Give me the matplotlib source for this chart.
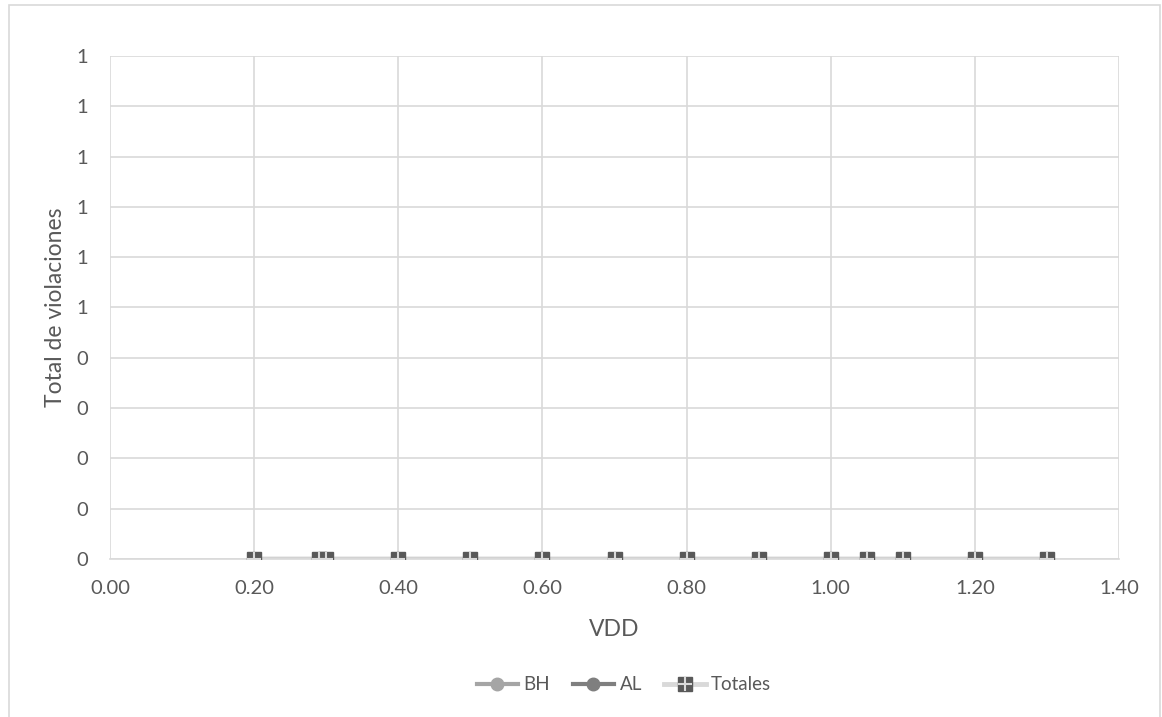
import numpy as np
import matplotlib
matplotlib.use("Agg")
import matplotlib.pyplot as plt
from matplotlib.patches import Rectangle
from matplotlib.legend_handler import HandlerTuple
from matplotlib.ticker import FuncFormatter, MultipleLocator

plt.rcParams['font.family'] = ['Lato', 'DejaVu Sans']

vdd = [0.20, 0.29, 0.30, 0.40, 0.50, 0.60, 0.70, 0.80, 0.90, 1.00, 1.05, 1.10, 1.20, 1.30]
bh = [0, 0, 0, 0, 0, 0, 0, 0, 0, 0, 0, 0, 0, 0]
al = [0, 0, 0, 0, 0, 0, 0, 0, 0, 0, 0, 0, 0, 0]
totales = [0, 0, 0, 0, 0, 0, 0, 0, 0, 0, 0, 0, 0, 0]

text_color = '#595959'
grid_color = '#d9d9d9'

fig = plt.figure(figsize=(11.62, 7.17), dpi=100)
ax = fig.add_axes([110 / 1162, 1 - 559 / 717, (1119 - 110) / 1162, (559 - 56) / 717])

# outer chart border
fig.patches.append(Rectangle((9 / 1162, -0.02), (1160 - 9) / 1162, 1.02 - 5 / 717,
                             transform=fig.transFigure, fill=False,
                             edgecolor=grid_color, linewidth=1.2))

l_bh, = ax.plot(vdd, bh, color='#a5a5a5', lw=3, marker='o', ms=9,
                markerfacecolor='#a5a5a5', markeredgecolor='#a5a5a5', zorder=3)
l_al, = ax.plot(vdd, al, color='#7f7f7f', lw=3, marker='o', ms=9,
                markerfacecolor='#7f7f7f', markeredgecolor='#7f7f7f', zorder=4)
l_tot, = ax.plot(vdd, totales, color='#d9d9d9', lw=3.5, marker='s', ms=10.5,
                 markerfacecolor='#595959', markeredgecolor='#595959', zorder=5)
l_cross, = ax.plot(vdd, totales, linestyle='none', marker='+', ms=10, mew=1.5,
                   color='#d9d9d9', zorder=6)

ax.set_xlim(0, 1.4)
ax.set_ylim(0, 1.0)
ax.xaxis.set_major_locator(MultipleLocator(0.2))
ax.yaxis.set_major_locator(MultipleLocator(0.1))
ax.xaxis.set_major_formatter(FuncFormatter(lambda v, p: f"{v:.2f}"))
ax.yaxis.set_major_formatter(FuncFormatter(lambda v, p: f"{int(np.floor(v + 0.5 + 1e-9))}"))

ax.grid(True, color=grid_color, linewidth=1.2)
ax.set_axisbelow(True)
for side in ['top', 'right', 'left']:
    ax.spines[side].set_visible(False)
ax.spines['bottom'].set_color(grid_color)
ax.spines['bottom'].set_linewidth(1.2)
ax.tick_params(length=0, labelsize=14.5, colors=text_color)
ax.tick_params(axis='x', pad=15)
ax.tick_params(axis='y', pad=16)

ax.set_xlabel('VDD', fontsize=16.5, color=text_color, labelpad=16)
ax.set_ylabel('Total de violaciones', fontsize=16.5, color=text_color, labelpad=7)

leg = fig.legend([l_bh, l_al, (l_tot, l_cross)], ['BH', 'AL', 'Totales'],
                 loc='center', bbox_to_anchor=(0.537, 1 - 685 / 717), ncol=3,
                 frameon=False, fontsize=13.5, handlelength=2.2, columnspacing=1.2,
                 handletextpad=0.3, labelcolor=text_color,
                 handler_map={tuple: HandlerTuple(ndivide=1, pad=0)})

fig.savefig('out.png', dpi=100, facecolor='white')
